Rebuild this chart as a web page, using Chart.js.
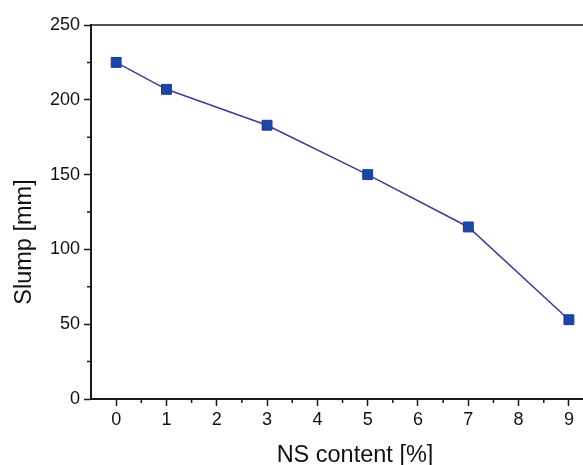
<!DOCTYPE html>
<html>
<head>
<meta charset="utf-8">
<script src="https://cdn.jsdelivr.net/npm/chart.js@4"></script>
<style>
    html, body { margin: 0; padding: 0; background: #fff; overflow: hidden; }
    #wrap { position: relative; width: 583px; height: 465px; }
</style>
</head>
<body>
<div id="wrap"><canvas id="chart"></canvas></div>
<script>
// NS content [%] vs slump [mm]
const nsContent = [0, 1, 3, 5, 7, 9];
const slump = [225, 207, 183, 150, 115, 53];

const xTicks = [0, 1, 2, 3, 4, 5, 6, 7, 8, 9];
const xMinorTicks = [0.5, 1.5, 2.5, 3.5, 4.5, 5.5, 6.5, 7.5, 8.5];
const yTicks = [0, 50, 100, 150, 200, 250];
const yMinorTicks = [25, 75, 125, 175, 225];

const xTitle = 'NS content [%]';
const yTitle = 'Slump [mm]';

const axisColor = '#1a1a1a';
const fontFamily = '"Liberation Sans", Arial, sans-serif';

// minor ticks, the top frame line and the axis titles
const framePlugin = {
    id: 'frame',
    afterDraw(chart) {
        const { ctx, chartArea, scales } = chart;
        ctx.save();
        ctx.strokeStyle = axisColor;
        ctx.lineWidth = 1.5;
        ctx.beginPath();
        ctx.moveTo(chartArea.left, chartArea.top);
        ctx.lineTo(chartArea.right, chartArea.top);
        ctx.stroke();

        ctx.beginPath();
        xMinorTicks.forEach(v => {
            const px = scales.x.getPixelForValue(v);
            ctx.moveTo(px, chartArea.bottom);
            ctx.lineTo(px, chartArea.bottom + 4);
        });
        yMinorTicks.forEach(v => {
            const py = scales.y.getPixelForValue(v);
            ctx.moveTo(chartArea.left, py);
            ctx.lineTo(chartArea.left - 4, py);
        });
        ctx.stroke();

        ctx.fillStyle = '#111';
        ctx.font = '23.5px ' + fontFamily;
        ctx.textAlign = 'center';
        ctx.textBaseline = 'alphabetic';
        ctx.fillText(xTitle, 355, 462);

        ctx.translate(31, 242);
        ctx.rotate(-Math.PI / 2);
        ctx.fillText(yTitle, 0, 0);
        ctx.restore();
    }
};

new Chart(document.getElementById('chart'), {
    type: 'line',
    data: {
        datasets: [{
            data: nsContent.map((x, i) => ({ x: x, y: slump[i] })),
            borderColor: '#3b3d8e',
            borderWidth: 1.5,
            backgroundColor: '#1d45a8',
            pointBorderColor: '#1b3a96',
            pointBorderWidth: 1,
            pointStyle: 'rect',
            pointRadius: 7,
            tension: 0
        }]
    },
    options: {
        responsive: true,
        maintainAspectRatio: false,
        animation: false,
        layout: { autoPadding: false, padding: { top: 25, right: 0, bottom: 0, left: 0 } },
        plugins: {
            legend: { display: false },
            tooltip: { enabled: false }
        },
        scales: {
            x: {
                type: 'linear',
                min: -0.5,
                max: 9.28,
                afterBuildTicks: scale => { scale.ticks = xTicks.map(v => ({ value: v })); },
                afterFit: scale => {
                    scale.height = 66;
                    scale.paddingLeft = 0;
                    scale.paddingRight = 0;
                },
                border: { display: true, color: axisColor, width: 2 },
                grid: { drawOnChartArea: false, drawTicks: true, tickLength: 7, color: axisColor, tickWidth: 1.5 },
                ticks: {
                    color: '#111',
                    padding: 3,
                    maxRotation: 0,
                    font: { family: fontFamily, size: 18 }
                }
            },
            y: {
                type: 'linear',
                min: 0,
                max: 250,
                afterBuildTicks: scale => { scale.ticks = yTicks.map(v => ({ value: v })); },
                afterFit: scale => {
                    scale.width = 91;
                    scale.paddingTop = 0;
                    scale.paddingBottom = 0;
                },
                border: { display: true, color: axisColor, width: 2 },
                grid: { drawOnChartArea: false, drawTicks: true, tickLength: 7, color: axisColor, tickWidth: 1.5 },
                ticks: {
                    color: '#111',
                    padding: 4,
                    font: { family: fontFamily, size: 18 }
                }
            }
        }
    },
    plugins: [framePlugin]
});
</script>
</body>
</html>
